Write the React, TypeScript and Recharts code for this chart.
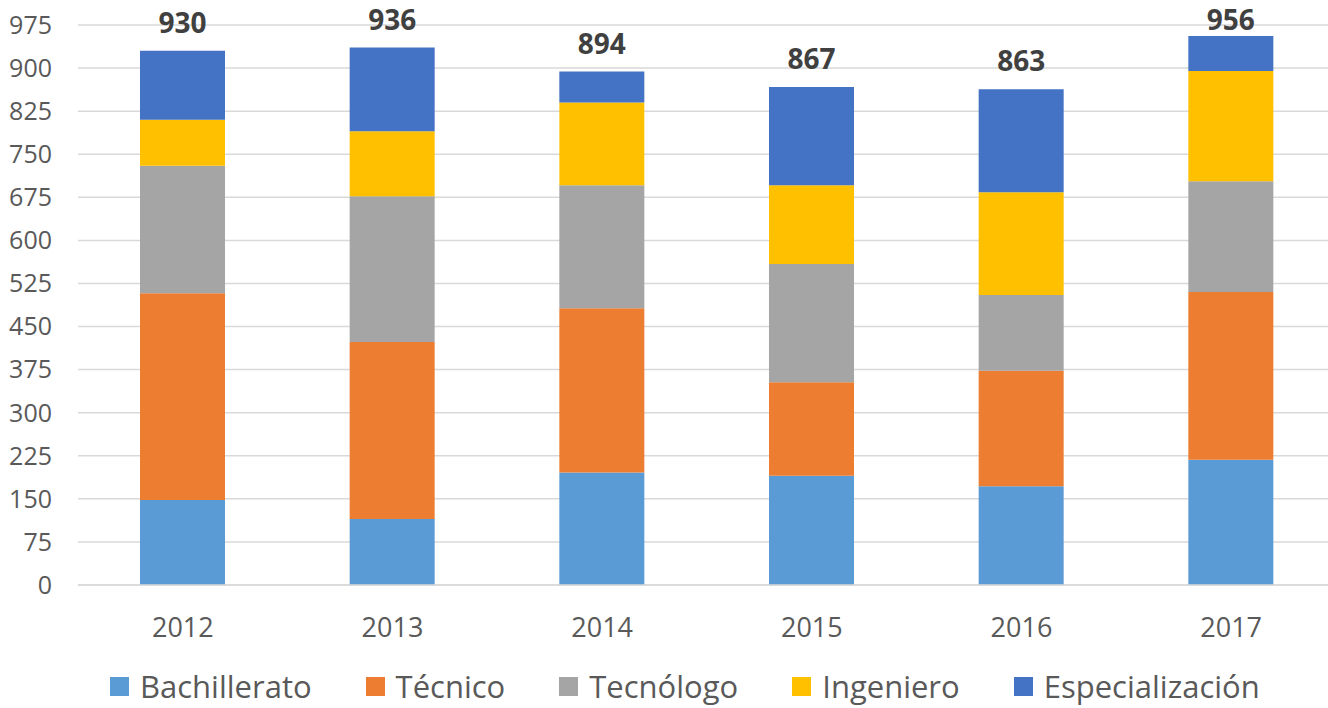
import { BarChart, Bar, XAxis, YAxis, CartesianGrid, LabelList } from 'recharts';

const years = ['2012', '2013', '2014', '2015', '2016', '2017'];
const bachillerato = [148, 115, 196, 190, 172, 218];
const tecnico = [360, 308, 286, 163, 201, 292];
const tecnologo = [222, 254, 214, 206, 132, 193];
const ingeniero = [80, 113, 144, 137, 179, 192];
const especializacion = [120, 146, 54, 171, 179, 61];
const totals = [930, 936, 894, 867, 863, 956];
const yTicks = [0, 75, 150, 225, 300, 375, 450, 525, 600, 675, 750, 825, 900, 975];

const SERIES = [
  { key: 'Bachillerato', color: '#5B9BD5', values: bachillerato },
  { key: 'Técnico', color: '#ED7D31', values: tecnico },
  { key: 'Tecnólogo', color: '#A5A5A5', values: tecnologo },
  { key: 'Ingeniero', color: '#FFC000', values: ingeniero },
  { key: 'Especialización', color: '#4472C4', values: especializacion },
];

const FONT = '"Open Sans", sans-serif';

const data = years.map((year, i) => {
  const row: any = { year, total: totals[i] };
  SERIES.forEach((s) => {
    row[s.key] = s.values[i];
  });
  return row;
});

const TotalLabel = (props: any) => {
  const { x, y, width, value } = props;
  return (
    <text
      x={x + width / 2}
      y={Math.max(y - 18, 30)}
      textAnchor="middle"
      fontFamily={FONT}
      fontWeight="bold"
      fontSize={28}
      fill="#404040"
    >
      {value}
    </text>
  );
};

export default function App() {
  return (
    <div
      style={{
        position: 'absolute',
        left: 0,
        top: 0,
        width: 1328,
        height: 708,
        overflow: 'hidden',
        background: '#ffffff',
        fontFamily: FONT,
      }}
    >
      <BarChart
        width={1340}
        height={708}
        data={data}
        margin={{ top: 25, right: 4, bottom: 63, left: 0 }}
        barSize={85}
      >
        <CartesianGrid vertical={false} stroke="#D9D9D9" strokeWidth={1.5} />
        <XAxis
          dataKey="year"
          axisLine={{ stroke: '#D9D9D9', strokeWidth: 1.5 }}
          tickLine={false}
          tickSize={0}
          tickMargin={33}
          height={60}
          tick={{ fill: '#595959', fontSize: 27, fontFamily: FONT }}
        />
        <YAxis
          domain={[0, 975]}
          ticks={yTicks}
          interval={0}
          axisLine={false}
          tickLine={false}
          tickSize={0}
          tickMargin={26}
          width={78}
          tick={{ fill: '#595959', fontSize: 25, fontFamily: FONT }}
        />
        {SERIES.map((s, idx) => (
          <Bar key={s.key} dataKey={s.key} stackId="a" fill={s.color} isAnimationActive={false}>
            {idx === SERIES.length - 1 && <LabelList dataKey="total" content={TotalLabel} />}
          </Bar>
        ))}
      </BarChart>
      <div
        style={{
          position: 'absolute',
          left: 110,
          top: 670,
          display: 'flex',
          alignItems: 'center',
          gap: 54,
          fontSize: 31,
          color: '#595959',
          lineHeight: '32px',
          whiteSpace: 'nowrap',
        }}
      >
        {SERIES.map((s) => (
          <div key={s.key} style={{ display: 'flex', alignItems: 'center' }}>
            <span
              style={{ display: 'inline-block', width: 19, height: 19, background: s.color, marginRight: 11 }}
            />
            <span>{s.key}</span>
          </div>
        ))}
      </div>
    </div>
  );
}
